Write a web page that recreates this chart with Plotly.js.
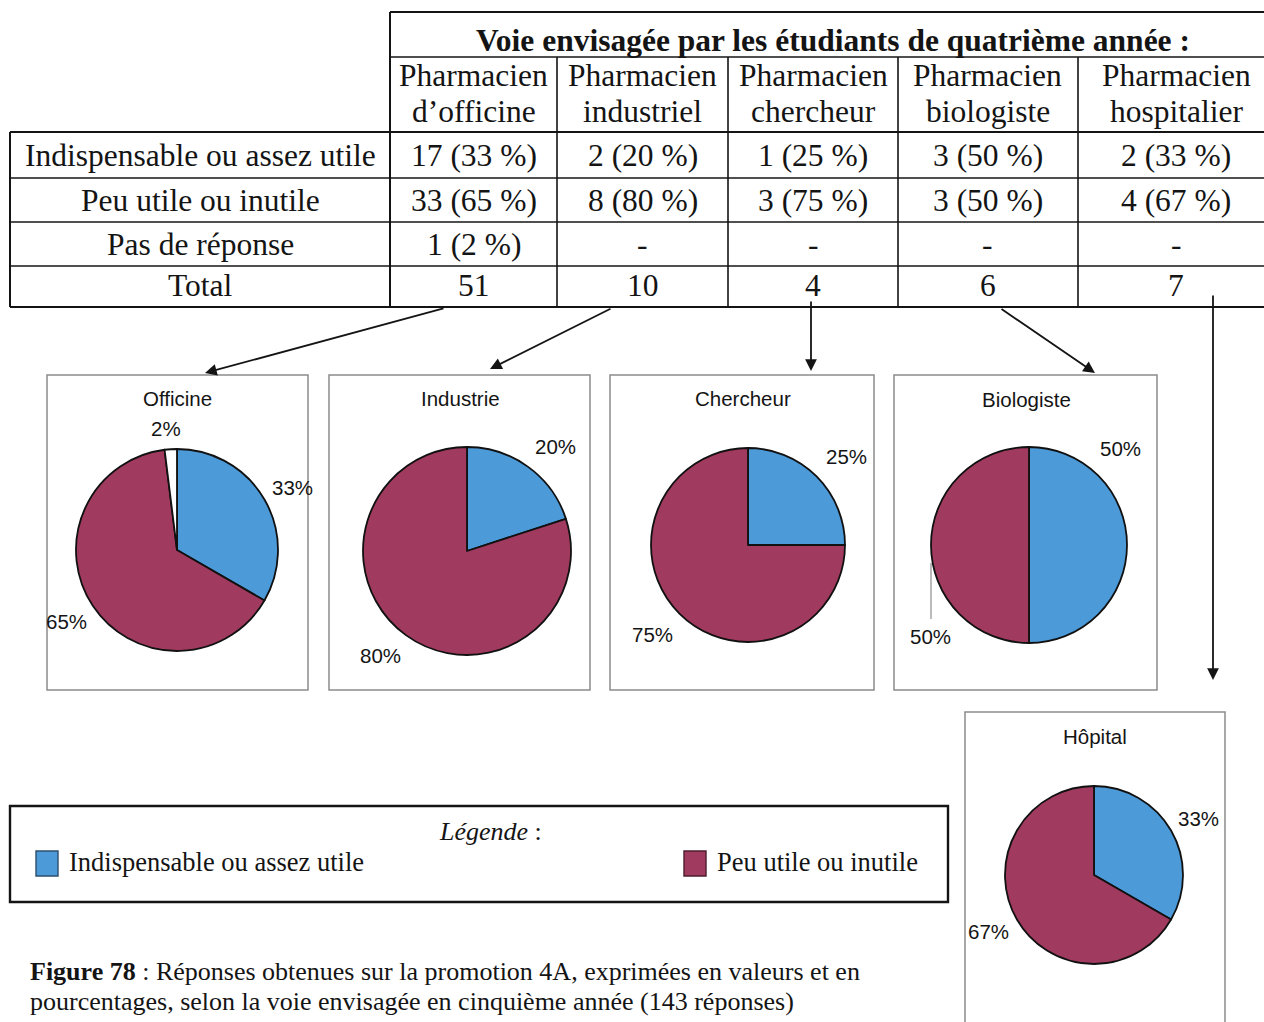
<!DOCTYPE html>
<html>
<head>
<meta charset="utf-8">
<script src="https://cdn.plot.ly/plotly-3.0.1.min.js"></script>
<style>
  html, body { margin: 0; padding: 0; background: #ffffff; }
  #fig { width: 1264px; height: 1022px; }
</style>
</head>
<body>
<div id="fig"></div>
<script>
// ---- Data ----
const tableTitle = 'Voie envisagée par les étudiants de quatrième année :';
const columnHeaders = [
  ['Pharmacien', 'd’officine'],
  ['Pharmacien', 'industriel'],
  ['Pharmacien', 'chercheur'],
  ['Pharmacien', 'biologiste'],
  ['Pharmacien', 'hospitalier']
];
const rowLabels = ['Indispensable ou assez utile', 'Peu utile ou inutile', 'Pas de réponse', 'Total'];
const answerLabels = ['Indispensable ou assez utile', 'Peu utile ou inutile', 'Pas de réponse'];
const countsUseful = [17, 2, 1, 3, 2];
const countsUseless = [33, 8, 3, 3, 4];
const countsNoAnswer = [1, 0, 0, 0, 0];
const totals = [51, 10, 4, 6, 7];
const chartTitles = ['Officine', 'Industrie', 'Chercheur', 'Biologiste', 'Hôpital'];
const legendTitle = 'Légende';
const legendLabels = ['Indispensable ou assez utile', 'Peu utile ou inutile'];
const captionBold = 'Figure 78';
const captionLines = [
  ' : Réponses obtenues sur la promotion 4A, exprimées en valeurs et en',
  'pourcentages, selon la voie envisagée en cinquième année (143 réponses)'
];

// ---- Styles ----
const W = 1264, H = 1022;
const X = p => p / W;
const Y = p => 1 - p / H;
const BLUE = '#4d9ad8';
const MAROON = '#a03a5e';
const SERIF = '"Liberation Serif", "Times New Roman", serif';
const SANS = '"Liberation Sans", Arial, sans-serif';
const INK = '#141414';
const TABLE_SIZE = 31.5;
const PIE_SIZE = 20.5;

// table geometry (pixels)
const colEdges = [390, 557, 728, 898, 1078, 1274];
const rowLines = [132, 178, 222, 266, 307];
const rowTextY = [155, 200, 244, 285];

// pie placement (centre x, centre y, radius) and chart frames
const pieGeom = [
  [177, 550, 101], [467, 551, 104], [748, 545, 97], [1029, 545, 98], [1094, 875, 89]
];
const frames = [
  [47, 375, 308, 690], [329, 375, 590, 690], [610, 375, 874, 690], [894, 375, 1157, 690], [965, 712, 1225, 1030]
];
const titlePos = [[177, 398], [460, 398], [743, 398], [1026, 399], [1095, 736]];
// percentage label positions per chart: [useful, useless, no answer]
const pctPos = [
  [[292, 487], [66, 621], [166, 428]],
  [[555, 446], [380, 655]],
  [[846, 456], [652, 634]],
  [[1120, 448], [930, 636]],
  [[1198, 818], [989, 931]]
];

const shapes = [];
const annotations = [];
const line = (x0, y0, x1, y1, w, c) => shapes.push({
  type: 'line', xref: 'paper', yref: 'paper', x0: X(x0), y0: Y(y0), x1: X(x1), y1: Y(y1),
  line: { color: c || INK, width: w || 1.5 }
});
const rect = (x0, y0, x1, y1, w, c, fill) => shapes.push({
  type: 'rect', xref: 'paper', yref: 'paper', x0: X(x0), y0: Y(y0), x1: X(x1), y1: Y(y1),
  line: { color: c || INK, width: w || 1.5 }, fillcolor: fill || 'rgba(0,0,0,0)'
});
const text = (t, x, y, size, family, opts) => annotations.push(Object.assign({
  text: t, xref: 'paper', yref: 'paper', x: X(x), y: Y(y), xanchor: 'center', yanchor: 'middle',
  showarrow: false, font: { family: family || SERIF, size: size || 30, color: INK }
}, opts || {}));

// ---- Table ----
line(390, 12, W, 12, 2);
line(390, 57, W, 57, 1.6);
rowLines.forEach((y, i) => line(10, y, W, y, i === 0 || i === rowLines.length - 1 ? 2 : 1.6));
line(10, 132, 10, 307, 2);
line(390, 12, 390, 307, 2);
colEdges.slice(1, -1).forEach(x => line(x, 57, x, 307, 1.6));

text('<b>' + tableTitle + '</b>', 833, 40, TABLE_SIZE);
columnHeaders.forEach((h, j) => {
  const cx = (colEdges[j] + colEdges[j + 1]) / 2;
  text(h[0], cx, 75, TABLE_SIZE);
  text(h[1], cx, 111, TABLE_SIZE);
});
rowLabels.forEach((r, i) => text(r, 200, rowTextY[i], TABLE_SIZE));

const pct = (c, j) => Math.round(100 * c / (countsUseful[j] + countsUseless[j] + countsNoAnswer[j]));
const cell = (c, j) => c > 0 ? c + ' (' + pct(c, j) + ' %)' : '-';
columnHeaders.forEach((h, j) => {
  const cx = (colEdges[j] + colEdges[j + 1]) / 2;
  text(cell(countsUseful[j], j), cx, rowTextY[0], TABLE_SIZE);
  text(cell(countsUseless[j], j), cx, rowTextY[1], TABLE_SIZE);
  text(cell(countsNoAnswer[j], j), cx, rowTextY[2], TABLE_SIZE);
  text(String(totals[j]), cx, rowTextY[3], TABLE_SIZE);
});

// ---- Arrows from the totals to the pies ----
const arrows = [
  [[445, 308], [205, 373]],
  [[612, 308], [490, 369]],
  [[811, 300], [811, 371]],
  [[1000, 308], [1095, 373]],
  [[1213, 294], [1213, 680]]
];
arrows.forEach(([tail, head]) => annotations.push({
  text: '', xref: 'paper', yref: 'paper', x: X(head[0]), y: Y(head[1]),
  axref: 'pixel', ayref: 'pixel', ax: tail[0] - head[0], ay: tail[1] - head[1],
  showarrow: true, arrowhead: 2, arrowsize: 1.3, arrowwidth: 1.8, arrowcolor: INK, standoff: 0
}));

// ---- Pies ----
const traces = [];
chartTitles.forEach((t, j) => {
  const [cx, cy, r] = pieGeom[j];
  const vals = [countsUseful[j], countsUseless[j], countsNoAnswer[j]];
  const cols = [BLUE, MAROON, '#ffffff'];
  const v = [], c = [], l = [];
  vals.forEach((val, k) => { if (val > 0) { v.push(val); c.push(cols[k]); l.push(answerLabels[k]); } });
  traces.push({
    type: 'pie', values: v, labels: l,
    sort: false, direction: 'clockwise', rotation: 0,
    marker: { colors: c, line: { color: '#111111', width: 1.8 } },
    textinfo: 'none', hoverinfo: 'skip', showlegend: false,
    domain: { x: [X(cx - r), X(cx + r)], y: [Y(cy + r), Y(cy - r)] }
  });
  const f = frames[j];
  rect(f[0], f[1], f[2], f[3], 1.5, '#8c8c8c');
  text(t, titlePos[j][0], titlePos[j][1], PIE_SIZE, SANS);
  vals.forEach((val, k) => {
    if (val > 0) {
      const p = pctPos[j][k];
      text(pct(val, j) + '%', p[0], p[1], PIE_SIZE, SANS);
    }
  });
});
// leader line for the left label of the Biologiste pie
line(931, 563, 931, 619, 1, '#777777');

// ---- Legend ----
rect(10, 806, 948, 902, 2.4, INK);
text('<i>' + legendTitle + '</i> :', 490, 831, 26);
rect(36, 851, 58, 876, 1.4, '#2b4f6e', BLUE);
rect(684, 851, 706, 876, 1.4, '#4d1c2e', MAROON);
text(legendLabels[0], 67, 862, 26.5, SERIF, { xanchor: 'left' });
text(legendLabels[1], 715, 862, 26.5, SERIF, { xanchor: 'left' });

// ---- Caption ----
text('<b>' + captionBold + '</b>' + captionLines[0], 28, 971, 26, SERIF, { xanchor: 'left' });
text(captionLines[1], 28, 1001, 26, SERIF, { xanchor: 'left' });

const layout = {
  width: W, height: H,
  margin: { l: 0, r: 0, t: 0, b: 0, pad: 0 },
  paper_bgcolor: '#ffffff', plot_bgcolor: '#ffffff',
  showlegend: false,
  shapes: shapes,
  annotations: annotations
};

Plotly.newPlot('fig', traces, layout, { staticPlot: true, displayModeBar: false });
</script>
</body>
</html>
